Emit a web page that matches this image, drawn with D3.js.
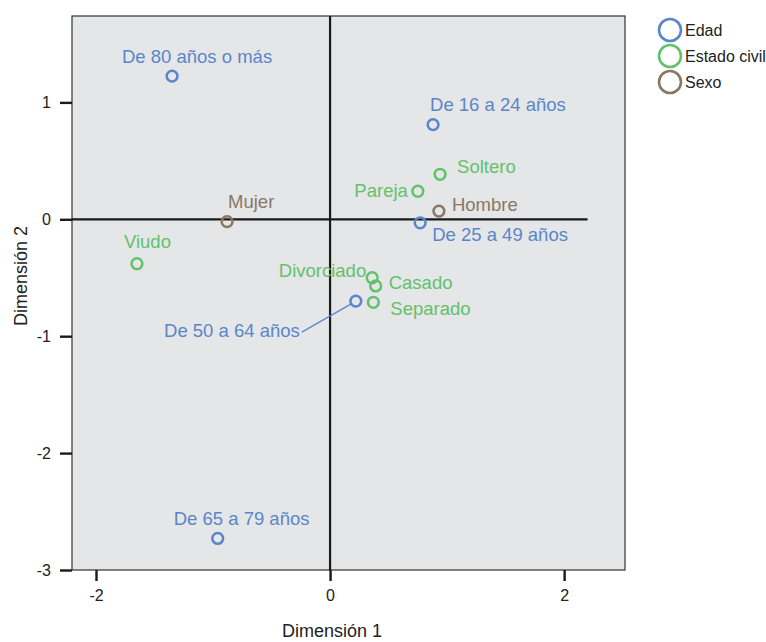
<!DOCTYPE html>
<html><head><meta charset="utf-8">
<script src="https://cdn.jsdelivr.net/npm/d3@7"></script>
<style>
body{margin:0;background:#fff;}
text{font-family:"Liberation Sans",Arial,sans-serif;}
</style></head>
<body><svg id="c" width="766" height="642"></svg>
<script>
const labels = ["De 80 años o más","De 16 a 24 años","Soltero","Pareja","Hombre","De 25 a 49 años","Mujer","Viudo","Divorciado","Casado","Separado","De 50 a 64 años","De 65 a 79 años"];
const groups = ["Edad","Edad","Estado civil","Estado civil","Sexo","Edad","Sexo","Estado civil","Estado civil","Estado civil","Estado civil","Edad","Edad"];
const dim1 = [-1.35,0.88,0.94,0.75,0.93,0.77,-0.88,-1.65,0.36,0.39,0.37,0.22,-0.96];
const dim2 = [1.225,0.81,0.385,0.24,0.07,-0.03,-0.02,-0.38,-0.50,-0.57,-0.71,-0.70,-2.73];
const legendNames = ["Edad","Estado civil","Sexo"];
const legendColors = ["#5a86c9","#63c16b","#8a7765"];
const xTicks = [-2,0,2];
const yTicks = [1,0,-1,-2,-3];

// label placement: [dx, dy, anchor]
const labelPos = [
  [25,-13,"middle"],[-3,-14,"start"],[17,-1,"start"],[-10,6,"end"],[13,0,"start"],[12,18,"start"],
  [1,-14,"start"],[-13,-16,"start"],[-6,-1,"end"],[13,3,"start"],[17,13,"start"],[-56,36,"end"],[-44,-13,"start"]
];

const svg = d3.select("#c");
const L=72,R=625,T=16,B=570;
const x = d3.scaleLinear().domain([-2.205,2.52]).range([L,R]);
const y = d3.scaleLinear().domain([-3,1.739]).range([B,T]);
const color = d3.scaleOrdinal().domain(legendNames).range(legendColors);

svg.append("rect").attr("x",L).attr("y",T).attr("width",R-L).attr("height",B-T)
  .attr("fill","#e5e6e8").attr("stroke","#333").attr("stroke-width",1.2);

// reference lines
svg.append("line").attr("x1",L).attr("x2",x(2.2)).attr("y1",y(0)).attr("y2",y(0))
  .attr("stroke","#1a1a1a").attr("stroke-width",2.2);
svg.append("line").attr("x1",x(0)).attr("x2",x(0)).attr("y1",T).attr("y2",B)
  .attr("stroke","#1a1a1a").attr("stroke-width",2.2);

const fmt = d => String(d);
const xAx = svg.append("g").attr("transform",`translate(0,${B})`)
  .call(d3.axisBottom(x).tickValues(xTicks).tickSize(11).tickPadding(9).tickFormat(fmt));
const yAx = svg.append("g").attr("transform",`translate(${L},0)`)
  .call(d3.axisLeft(y).tickValues(yTicks).tickSize(12).tickPadding(9).tickFormat(fmt));
[xAx,yAx].forEach(g=>{
  g.select(".domain").remove();
  g.selectAll(".tick line").attr("stroke","#1a1a1a").attr("stroke-width",2.4);
  g.selectAll(".tick text").attr("fill","#222").style("font-size","16px").style("font-family","Liberation Sans, Arial, sans-serif");
});

svg.append("text").attr("x",332).attr("y",637).attr("text-anchor","middle")
  .attr("fill","#222").style("font-size","18px").text("Dimensión 1");
svg.append("text").attr("transform","translate(27,276) rotate(-90)").attr("text-anchor","middle")
  .attr("fill","#222").style("font-size","18px").text("Dimensión 2");

const data = labels.map((l,i)=>({label:l,group:groups[i],d1:dim1[i],d2:dim2[i],pos:labelPos[i]}));

// leader line for De 50 a 64 años
const d50 = data[11];
svg.append("line").attr("x1",x(d50.d1)-5).attr("y1",y(d50.d2)+3).attr("x2",x(d50.d1)-54).attr("y2",y(d50.d2)+31)
  .attr("stroke",color(d50.group)).attr("stroke-width",1.2);

svg.selectAll("circle.pt").data(data).join("circle").attr("class","pt")
  .attr("cx",d=>x(d.d1)).attr("cy",d=>y(d.d2)).attr("r",5.4)
  .attr("fill","none").attr("stroke",d=>color(d.group)).attr("stroke-width",2.5);

svg.selectAll("text.lab").data(data).join("text").attr("class","lab")
  .attr("x",d=>x(d.d1)+d.pos[0]).attr("y",d=>y(d.d2)+d.pos[1]).attr("text-anchor",d=>d.pos[2])
  .attr("fill",d=>color(d.group)).style("font-size","18.5px").text(d=>d.label);

// legend
const lg = svg.append("g");
legendNames.forEach((n,i)=>{
  lg.append("circle").attr("cx",670).attr("cy",30+i*26).attr("r",11)
    .attr("fill","none").attr("stroke",legendColors[i]).attr("stroke-width",2.6);
  lg.append("text").attr("x",685).attr("y",36+i*26).attr("fill","#222").style("font-size","16px").text(n);
});
</script></body></html>
